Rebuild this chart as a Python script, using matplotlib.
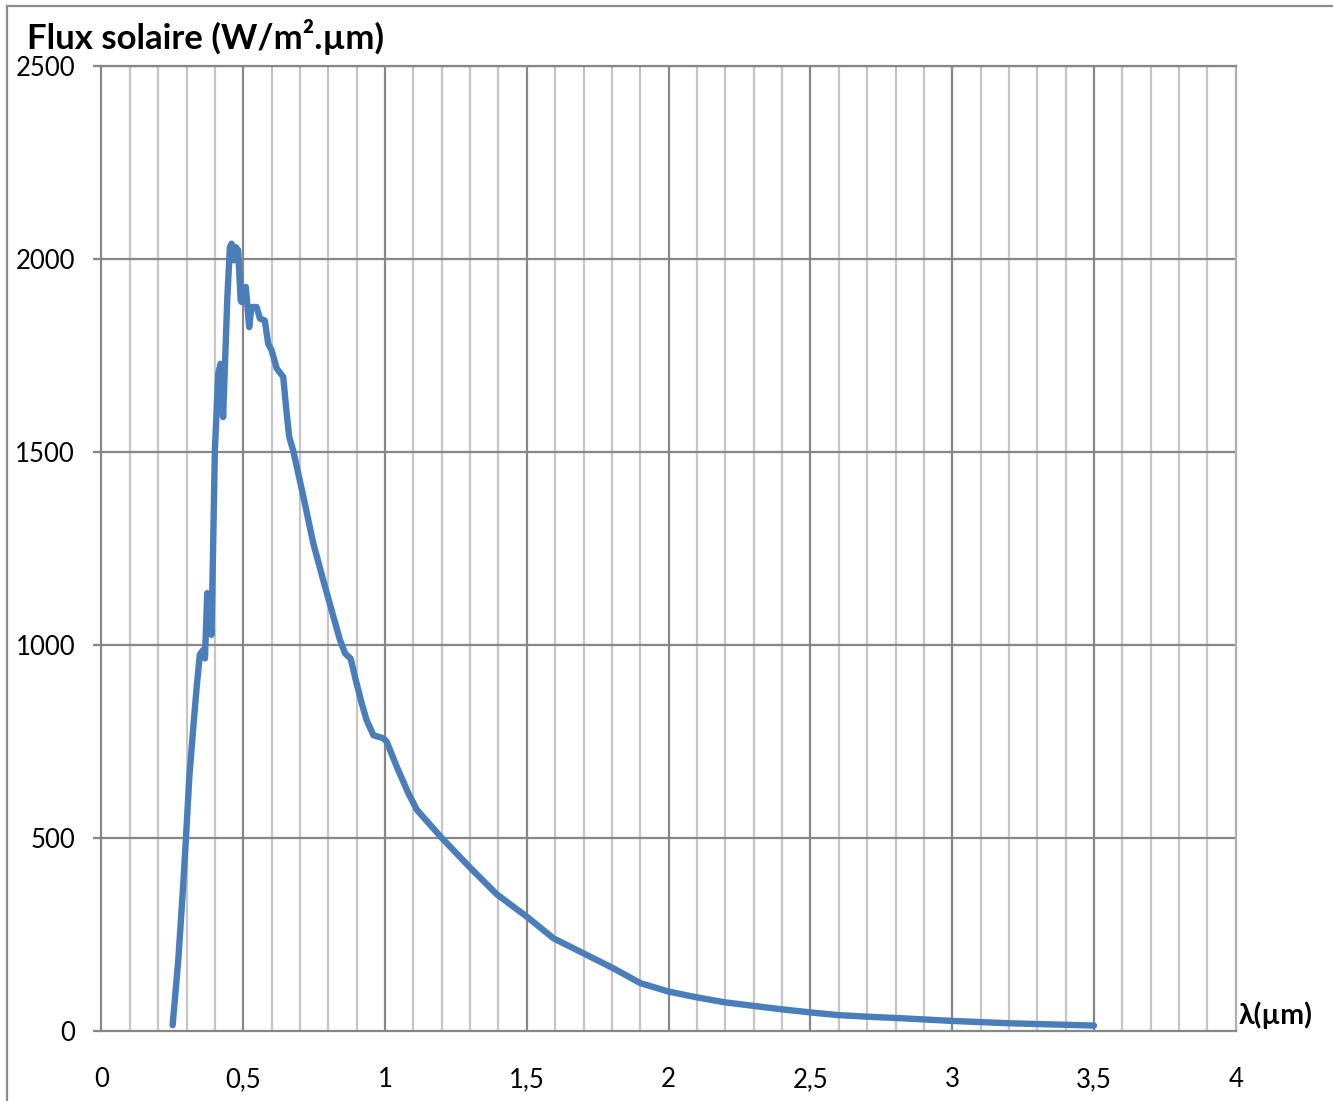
import numpy as np
import matplotlib
matplotlib.use("Agg")
from matplotlib import pyplot as plt
from matplotlib.lines import Line2D

# wavelength (um) and solar flux (W/m2.um)
wavelength = [0.251, 0.271, 0.288, 0.298, 0.310, 0.324, 0.336, 0.347, 0.359, 0.365,
              0.373, 0.388, 0.400, 0.412, 0.420, 0.429, 0.444, 0.453, 0.459, 0.467,
              0.474, 0.482, 0.491, 0.494, 0.509, 0.521, 0.529, 0.547, 0.559, 0.576,
              0.588, 0.600, 0.618, 0.641, 0.651, 0.662, 0.676, 0.712, 0.747, 0.782,
              0.818, 0.841, 0.859, 0.879, 0.894, 0.918, 0.935, 0.959, 0.994, 1.006,
              1.041, 1.082, 1.112, 1.200, 1.300, 1.394, 1.500, 1.594, 1.700, 1.806,
              1.900, 2.000, 2.100, 2.200, 2.300, 2.400, 2.500, 2.600, 2.700, 2.820,
              3.000, 3.200, 3.500]
flux = [15, 184, 374, 499, 659, 788, 892, 975, 987, 965,
        1134, 1026, 1504, 1703, 1728, 1590, 1901, 2030, 2039, 1996,
        2030, 2022, 1892, 1888, 1927, 1823, 1875, 1875, 1845, 1840,
        1780, 1763, 1716, 1694, 1616, 1539, 1504, 1384, 1263, 1168,
        1073, 1013, 978, 964, 917, 848, 805, 766, 758, 749,
        685, 616, 573, 500, 423, 354, 296, 240, 201, 162,
        124, 102, 87, 74, 65, 56, 48, 41, 37, 33,
        26, 20, 14]

x_ticks = [0, 0.5, 1, 1.5, 2, 2.5, 3, 3.5, 4]
x_labels = ["0", "0,5", "1", "1,5", "2", "2,5", "3", "3,5", "4"]
y_ticks = [0, 500, 1000, 1500, 2000, 2500]

plt.rcParams['font.family'] = ['Lato', 'DejaVu Sans']

fig = plt.figure(figsize=(13.33, 11.01), dpi=100)
ax = fig.add_axes([0.0761, 0.0636, 0.851, 0.8767])

# minor grid every 0.1, major every 0.5
for xv in np.arange(0.1, 4.0, 0.1):
    if abs(xv * 2 - round(xv * 2)) > 1e-6:
        ax.axvline(xv, color="#c6c6c6", lw=1.6, zorder=1)
for xv in x_ticks[1:-1]:
    ax.axvline(xv, color="#878787", lw=1.6, zorder=1)
for yv in y_ticks[1:]:
    ax.axhline(yv, color="#878787", lw=1.6, zorder=1)

ax.plot(wavelength, flux, color="#4a7ebb", lw=4.6, solid_capstyle="round",
        solid_joinstyle="round", zorder=3)

ax.set_xlim(0, 4)
ax.set_ylim(0, 2500)
ax.set_xticks(x_ticks)
ax.set_xticklabels(x_labels)
ax.set_yticks(y_ticks)

for side in ["left", "bottom", "top"]:
    ax.spines[side].set_color("#878787")
    ax.spines[side].set_linewidth(1.6)
ax.spines["right"].set_color("#b0b0b0")
ax.spines["right"].set_linewidth(1.6)

ax.tick_params(axis="y", length=6, width=1.6, color="#878787", pad=13, labelsize=18.5)
ax.tick_params(axis="x", length=0, pad=26, labelsize=18.5)

fig.text(0.020, 0.9555, "Flux solaire (W/m².µm)", fontsize=25, fontweight="bold",
         ha="left", va="baseline")
fig.text(0.929, 0.078, "λ(µm)", fontsize=20.5, fontweight="bold", ha="left", va="center")

# chart area border (top and left visible in the reference)
fig.add_artist(Line2D([0.0053, 0.0053], [0.0, 0.9945], transform=fig.transFigure,
                      color="#8c8c8c", lw=1.6))
fig.add_artist(Line2D([0.0053, 1.0], [0.9945, 0.9945], transform=fig.transFigure,
                      color="#8c8c8c", lw=1.6))

fig.savefig("out.png", dpi=100, facecolor="white")
